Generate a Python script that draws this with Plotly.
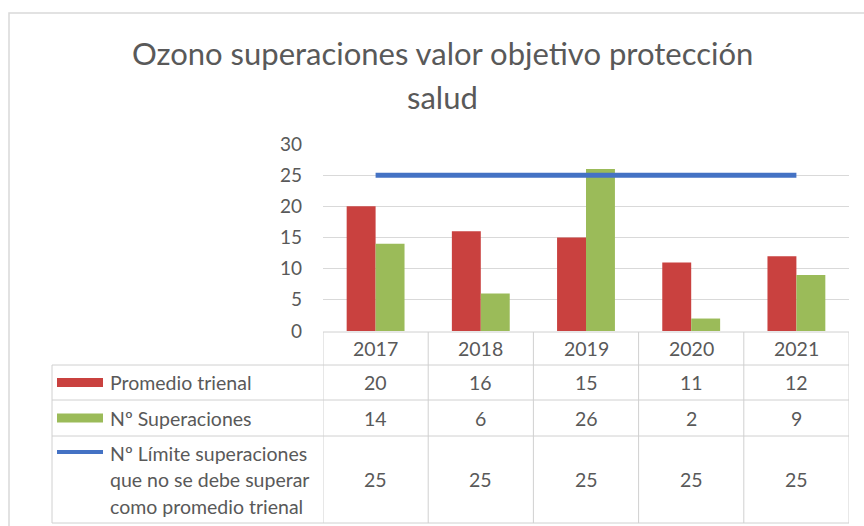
import plotly.graph_objects as go

years = ["2017", "2018", "2019", "2020", "2021"]
promedio = [20, 16, 15, 11, 12]
superaciones = [14, 6, 26, 2, 9]
limite = [25, 25, 25, 25, 25]
series_names = ["Promedio trienal", "Nº Superaciones",
                "Nº Límite superaciones<br>que no se debe superar<br>como promedio trienal"]
title_lines = ["Ozono superaciones valor objetivo protección", "salud"]
y_ticks = [0, 5, 10, 15, 20, 25, 30]

RED = "#C9413F"
GREEN = "#9BBB59"
BLUE = "#4472C4"
TXT = "#595959"
GRID = "#D9D9D9"
FONT = "Lato"

W, H = 864, 526
ML, MR, MT, MB = 323, 15, 144, 195
PW = W - ML - MR
PH = H - MT - MB


def py(p):
    return 1 - (p - MT) / PH


def px(p):
    return (p - ML) / PW


fig = go.Figure()
fig.add_trace(go.Bar(x=years, y=promedio, name=series_names[0], marker_color=RED,
                     marker_line_width=0))
fig.add_trace(go.Bar(x=years, y=superaciones, name=series_names[1], marker_color=GREEN,
                     marker_line_width=0))
fig.add_trace(go.Scatter(x=years, y=limite, name=series_names[2], mode="lines",
                         line=dict(color=BLUE, width=5)))

shapes = []
annotations = []
LC = "#D0D0D0"
row_tops = [332, 365, 400, 436, 523]
left_x = px(52)
shapes.append(dict(type="line", xref="x", yref="paper", x0=-0.5, x1=4.5,
                   y0=py(row_tops[0]), y1=py(row_tops[0]), line=dict(color=LC, width=1)))
for r in row_tops[1:]:
    shapes.append(dict(type="line", xref="paper", yref="paper", x0=left_x, x1=1,
                       y0=py(r), y1=py(r), line=dict(color=LC, width=1)))
for i in range(len(years) + 1):
    xv = i - 0.5
    shapes.append(dict(type="line", xref="x", yref="paper", x0=xv, x1=xv,
                       y0=py(row_tops[0]), y1=py(row_tops[-1]), line=dict(color=LC, width=1)))
shapes.append(dict(type="line", xref="paper", yref="paper", x0=left_x, x1=left_x,
                   y0=py(row_tops[1]), y1=py(row_tops[-1]), line=dict(color=LC, width=1)))

# outer chart frame
shapes.append(dict(type="rect", xref="paper", yref="paper", x0=px(9), x1=px(880),
                   y0=py(540), y1=py(13), line=dict(color="#D9D9D9", width=1.5),
                   layer="below"))

row_centers = [(row_tops[k] + row_tops[k + 1]) / 2 for k in range(4)]
FS = 19.5
for i, yv in enumerate(years):
    annotations.append(dict(x=i, y=py(row_centers[0]), xref="x", yref="paper", text=yv,
                            showarrow=False, xanchor="center", yanchor="middle",
                            font=dict(size=FS, color=TXT, family=FONT)))
    for k, vals in enumerate([promedio, superaciones, limite]):
        annotations.append(dict(x=i, y=py(row_centers[k + 1]), xref="x", yref="paper",
                                text=str(vals[i]), showarrow=False,
                                xanchor="center", yanchor="middle",
                                font=dict(size=FS, color=TXT, family=FONT)))

txt_x = px(108)
for k in range(2):
    yc = row_centers[k + 1]
    shapes.append(dict(type="rect", xref="paper", yref="paper", x0=px(57), x1=px(103),
                       y0=py(yc + 4.5), y1=py(yc - 4.5), fillcolor=[RED, GREEN][k],
                       line=dict(width=0)))
    annotations.append(dict(x=txt_x, y=py(yc), xref="paper", yref="paper",
                            text=series_names[k], showarrow=False, xanchor="left",
                            yanchor="middle", font=dict(size=FS, color=TXT, family=FONT)))
lines3 = series_names[2].split("<br>")
yc3 = row_centers[3]
for j, t in enumerate(lines3):
    annotations.append(dict(x=txt_x, y=py(yc3 + (j - 1) * 26.5), xref="paper", yref="paper",
                            text=t, showarrow=False, xanchor="left", yanchor="middle",
                            font=dict(size=FS, color=TXT, family=FONT)))
shapes.append(dict(type="line", xref="paper", yref="paper", x0=px(57), x1=px(103),
                   y0=py(yc3 - 26.5 - 1), y1=py(yc3 - 26.5 - 1), line=dict(color=BLUE, width=4)))

for j, t in enumerate(title_lines):
    annotations.append(dict(x=px(442), y=py(53 + j * 44), xref="paper", yref="paper",
                            text=t, showarrow=False, xanchor="center", yanchor="middle",
                            font=dict(size=31, color=TXT, family=FONT)))

fig.update_layout(
    width=W, height=H,
    margin=dict(l=ML, r=MR, t=MT, b=MB),
    paper_bgcolor="white", plot_bgcolor="white",
    barmode="group", bargap=0.45, bargroupgap=0,
    showlegend=False,
    shapes=shapes, annotations=annotations,
    xaxis=dict(type="category", range=[-0.5, 4.5], showticklabels=False, showgrid=False,
               zeroline=False, showline=False, ticks=""),
    yaxis=dict(range=[0, 30], tickvals=y_ticks, showgrid=True, gridcolor=GRID, gridwidth=1,
               zeroline=False, showline=False, ticks="",
               tickfont=dict(size=19, color=TXT, family=FONT), ticklabelstandoff=20),
)

fig.write_html("out.html", config={"displayModeBar": False},
               post_script="document.body.style.margin='0';")
